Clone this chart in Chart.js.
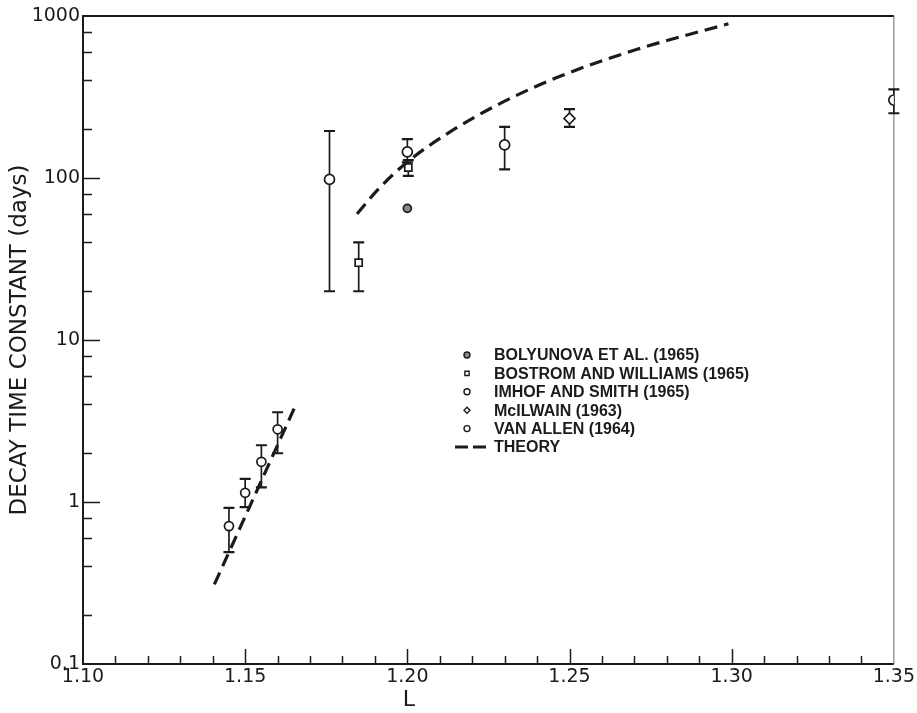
<!DOCTYPE html>
<html>
<head>
<meta charset="utf-8">
<script src="https://cdn.jsdelivr.net/npm/chart.js@4.4.1/dist/chart.umd.min.js"></script>
<style>
    html, body { margin: 0; padding: 0; background: #fff; }
</style>
</head>
<body>
<canvas id="grafico" width="917" height="713"></canvas>
<script>
// Eixos
const ticksL = [1.10, 1.15, 1.20, 1.25, 1.30, 1.35];
const ticksTau = [0.1, 1, 10, 100, 1000];

// Teoria: ramo de L baixo (reta) e ramo de L alto
const teoriaBaixaL = [1.1405, 1.1656];
const teoriaBaixaTau = [0.31, 3.97];
const teoriaAltaL = [1.1845, 1.1912, 1.2001, 1.2127, 1.2281, 1.2465, 1.2711, 1.2990];
const teoriaAltaTau = [60, 86, 126, 190, 285, 420, 625, 895];

// Medidas (valor, limite inferior, limite superior)
const bolyunovaL = [1.20];
const bolyunovaTau = [65];

const bostromL = [1.185, 1.2003];
const bostromTau = [30, 116];
const bostromMin = [20, 103];
const bostromMax = [40, 129];

const imhofL = [1.145, 1.15, 1.155, 1.16];
const imhofTau = [0.71, 1.14, 1.77, 2.81];
const imhofMin = [0.49, 0.93, 1.23, 2.0];
const imhofMax = [0.92, 1.39, 2.24, 3.58];

const mcilwainL = [1.25];
const mcilwainTau = [233];
const mcilwainMin = [207];
const mcilwainMax = [266];

const vanAllenL = [1.176, 1.20, 1.23, 1.35];
const vanAllenTau = [98, 145, 160, 303];
const vanAllenMin = [20, 125, 113, 251];
const vanAllenMax = [195, 174, 207, 352];

const rotulosLegenda = [
    'BOLYUNOVA ET AL. (1965)',
    'BOSTROM AND WILLIAMS (1965)',
    'IMHOF AND SMITH (1965)',
    'McILWAIN (1963)',
    'VAN ALLEN (1964)',
    'THEORY'
];

const TINTA = '#1b1b1b';

function pontos(xs, ys) {
    return xs.map((x, i) => ({ x: x, y: ys[i] }));
}

function serieMedida(label, xs, ys, estilo, raio, fundo, min, max) {
    return {
        label: label,
        data: pontos(xs, ys),
        pointStyle: estilo,
        pointRadius: raio,
        pointBackgroundColor: fundo,
        pointBorderColor: TINTA,
        pointBorderWidth: 1.7,
        showLine: false,
        erroMin: min,
        erroMax: max
    };
}

function serieTeoria(xs, ys) {
    return {
        label: 'THEORY',
        data: pontos(xs, ys),
        showLine: true,
        borderColor: TINTA,
        borderWidth: 3.2,
        borderDash: [13, 7],
        cubicInterpolationMode: 'monotone',
        pointRadius: 0,
        fill: false
    };
}

const datasets = [
    serieTeoria(teoriaBaixaL, teoriaBaixaTau),
    serieTeoria(teoriaAltaL, teoriaAltaTau),
    serieMedida(rotulosLegenda[0], bolyunovaL, bolyunovaTau, 'circle', 4, '#8a8a8a', null, null),
    serieMedida(rotulosLegenda[1], bostromL, bostromTau, 'rect', 5, '#fff', bostromMin, bostromMax),
    serieMedida(rotulosLegenda[2], imhofL, imhofTau, 'circle', 4.5, '#fff', imhofMin, imhofMax),
    serieMedida(rotulosLegenda[3], mcilwainL, mcilwainTau, 'rectRot', 5.5, '#fff', mcilwainMin, mcilwainMax),
    serieMedida(rotulosLegenda[4], vanAllenL, vanAllenTau, 'circle', 5, '#fff', vanAllenMin, vanAllenMax)
];

// Moldura do grafico e marcas dos eixos voltadas para dentro
const moldura = {
    id: 'moldura',
    beforeDatasetsDraw(chart) {
        const { ctx, chartArea: a, scales: { x, y } } = chart;
        ctx.save();
        ctx.lineCap = 'butt';
        ctx.strokeStyle = '#8a8a8a';
        ctx.lineWidth = 1.3;
        ctx.beginPath();
        ctx.moveTo(a.right, a.top);
        ctx.lineTo(a.right, a.bottom);
        ctx.stroke();

        ctx.strokeStyle = TINTA;
        ctx.lineWidth = 2;
        ctx.beginPath();
        ctx.moveTo(a.right, a.top);
        ctx.lineTo(a.left, a.top);
        ctx.lineTo(a.left, a.bottom);
        ctx.lineTo(a.right, a.bottom);
        ctx.stroke();

        ctx.lineWidth = 1.5;
        ctx.beginPath();
        for (let i = 1; i < 25; i++) {
            const px = Math.round(x.getPixelForValue(1.10 + i * 0.01)) + 0.5;
            const len = i % 5 === 0 ? 15 : 8;
            ctx.moveTo(px, a.bottom);
            ctx.lineTo(px, a.bottom - len);
        }
        ticksTau.forEach((dec, k) => {
            if (k > 0 && k < ticksTau.length - 1) {
                const py = Math.round(y.getPixelForValue(dec)) + 0.5;
                ctx.moveTo(a.left, py);
                ctx.lineTo(a.left + 17, py);
            }
            if (k < ticksTau.length - 1) {
                [2, 4, 6, 8].forEach(m => {
                    const py = Math.round(y.getPixelForValue(dec * m)) + 0.5;
                    ctx.moveTo(a.left, py);
                    ctx.lineTo(a.left + 9, py);
                });
            }
        });
        ctx.stroke();

        // titulo do eixo horizontal
        ctx.fillStyle = TINTA;
        ctx.font = '22px "DejaVu Sans", sans-serif';
        ctx.textAlign = 'center';
        ctx.textBaseline = 'middle';
        ctx.fillText('L', 409, 700);
        ctx.restore();
    }
};

// Barras de erro desenhadas pelas escalas do grafico
const barrasErro = {
    id: 'barrasErro',
    beforeDatasetsDraw(chart) {
        const { ctx, scales: { x, y } } = chart;
        ctx.save();
        ctx.strokeStyle = TINTA;
        chart.data.datasets.forEach(ds => {
            if (!ds.erroMin) return;
            ds.data.forEach((p, i) => {
                const px = x.getPixelForValue(p.x);
                const yTop = y.getPixelForValue(ds.erroMax[i]);
                const yBot = y.getPixelForValue(ds.erroMin[i]);
                ctx.lineWidth = 1.7;
                ctx.beginPath();
                ctx.moveTo(px, yTop);
                ctx.lineTo(px, yBot);
                ctx.stroke();
                ctx.lineWidth = 2.2;
                ctx.beginPath();
                ctx.moveTo(px - 5.5, yTop);
                ctx.lineTo(px + 5.5, yTop);
                ctx.moveTo(px - 5.5, yBot);
                ctx.lineTo(px + 5.5, yBot);
                ctx.stroke();
            });
        });
        ctx.restore();
    }
};

// Legenda dentro da area do grafico
const legendaInterna = {
    id: 'legendaInterna',
    afterDraw(chart) {
        const { ctx } = chart;
        const x0 = 467, xTexto = 494, y0 = 355, passo = 18.4;
        ctx.save();
        ctx.font = 'bold 16px "Liberation Sans", Arial, sans-serif';
        ctx.textBaseline = 'middle';
        rotulosLegenda.forEach((rotulo, i) => {
            const yy = y0 + i * passo;
            if (rotulo === 'THEORY') {
                ctx.strokeStyle = TINTA;
                ctx.lineWidth = 3;
                ctx.beginPath();
                ctx.moveTo(455, yy);
                ctx.lineTo(468, yy);
                ctx.moveTo(473, yy);
                ctx.lineTo(486, yy);
                ctx.stroke();
            } else {
                const ds = chart.data.datasets.find(d => d.label === rotulo);
                ctx.strokeStyle = TINTA;
                ctx.fillStyle = ds.pointBackgroundColor;
                ctx.lineWidth = 1.4;
                Chart.helpers.drawPoint(ctx, {
                    pointStyle: ds.pointStyle,
                    radius: 3,
                    borderWidth: 1.4,
                    rotation: 0
                }, x0, yy);
            }
            ctx.fillStyle = TINTA;
            ctx.fillText(rotulo, xTexto, yy + 1);
        });
        ctx.restore();
    }
};

const fonteEixo = { family: '"DejaVu Sans", sans-serif', size: 19 };

new Chart(document.getElementById('grafico'), {
    type: 'scatter',
    data: { datasets: datasets },
    options: {
        responsive: false,
        devicePixelRatio: 1,
        animation: false,
        layout: {
            autoPadding: false,
            padding: { left: 0, top: 16, right: 20, bottom: 0 }
        },
        plugins: {
            legend: { display: false },
            tooltip: { enabled: false }
        },
        scales: {
            x: {
                type: 'linear',
                min: 1.10,
                max: 1.35,
                afterFit: scale => { scale.height = 49; },
                afterBuildTicks: scale => { scale.ticks = ticksL.map(v => ({ value: v })); },
                grid: { display: false, drawTicks: false },
                border: { display: false },
                ticks: {
                    color: TINTA,
                    font: fonteEixo,
                    padding: 2,
                    maxRotation: 0,
                    callback: v => v.toFixed(2)
                }
            },
            y: {
                type: 'logarithmic',
                min: 0.1,
                max: 1000,
                afterFit: scale => { scale.width = 83; },
                afterBuildTicks: scale => { scale.ticks = ticksTau.map(v => ({ value: v })); },
                grid: { display: false, drawTicks: false },
                border: { display: false },
                ticks: {
                    color: TINTA,
                    font: fonteEixo,
                    padding: 3,
                    callback: v => String(v)
                },
                title: {
                    display: true,
                    text: 'DECAY TIME CONSTANT (days)',
                    color: TINTA,
                    font: { family: '"DejaVu Sans", sans-serif', size: 23 },
                    padding: { top: 6 }
                }
            }
        }
    },
    plugins: [moldura, barrasErro, legendaInterna]
});
</script>
</body>
</html>
